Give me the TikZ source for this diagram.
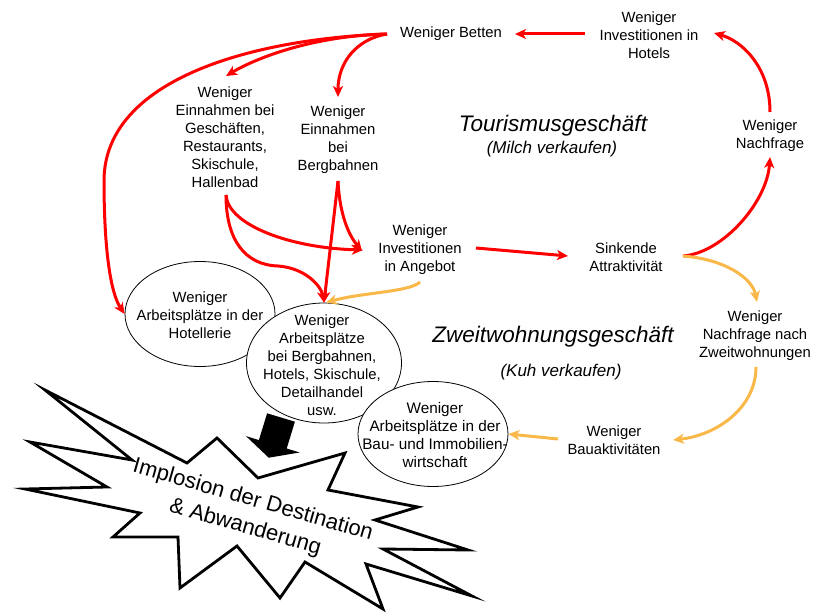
\documentclass[tikz,border=0pt]{standalone}
\usepackage{fontspec}
\setmainfont{Liberation Sans}
\usetikzlibrary{shapes.geometric,arrows.meta,calc}
\definecolor{redc}{RGB}{255,0,0}
\definecolor{orc}{RGB}{250,184,72}
\begin{document}
\begin{tikzpicture}[x=1pt,y=-1pt,
  txt/.style={font=\fontsize{14.8}{18}\selectfont, align=center, inner sep=0pt},
  ell/.style={draw, ellipse, fill=white, line width=0.8pt, inner sep=0pt},
  tipst/.style={-{Stealth[length=11pt,width=10pt,inset=3pt]}},
  rarr/.style={draw=redc, line width=3pt, tipst},
  oarr/.style={draw=orc, line width=3pt, tipst},
  title/.style={font=\fontsize{22.5}{26}\selectfont\itshape, inner sep=0pt},
  subtitle/.style={font=\fontsize{17}{20}\selectfont\itshape, inner sep=0pt}]
\useasboundingbox (0,0) rectangle (823,612);
\fill[white] (0,0) rectangle (823,612);

% text nodes
\node[txt] (betten) at (451,34) {Weniger Betten};
\node[txt] (hotels) at (649,35) {Weniger\\Investitionen in\\Hotels};
\node[txt] (nachfr) at (770,136) {Weniger\\Nachfrage};
\node[txt] (sinkend) at (626,257) {Sinkende\\Attraktivität};
\node[txt] (angebot) at (420,250) {Weniger\\Investitionen\\in Angebot};
\node[txt] (gesch) at (225,137) {Weniger\\Einnahmen bei\\Geschäften,\\Restaurants,\\Skischule,\\Hallenbad};
\node[txt] (bergb) at (338,140) {Weniger\\Einnahmen\\bei\\Bergbahnen};
\node[txt] (zwn) at (755,336) {Weniger\\Nachfrage nach\\Zweitwohnungen};
\node[txt] (bau) at (614,440) {Weniger\\Bauaktivitäten};
\node[title] (tour) at (553,126) {Tourismusgeschäft};
\node[subtitle] (milch) at (552,149) {(Milch verkaufen)};
\node[title] (zweit) at (553,337) {Zweitwohnungsgeschäft};
\node[subtitle] (kuh) at (561,372) {(Kuh verkaufen)};

% ellipses
\node[ell, minimum width=150pt, minimum height=105pt] (e1) at (200,314) {};
\node[txt] (e1t) at (200,315) {Weniger\\Arbeitsplätze in der\\Hotellerie};
\node[ell, minimum width=155pt, minimum height=120pt] (e2) at (324,363) {};
\node[txt] (e2t) at (322,365) {Weniger\\Arbeitsplätze\\bei Bergbahnen,\\Hotels, Skischule,\\Detailhandel\\usw.};
\node[ell, minimum width=150pt, minimum height=105pt] (e3) at (433,434) {};
\node[txt, font=\fontsize{15.3}{18}\selectfont] (e3t) at (435,435) {Weniger\\Arbeitsplätze in der\\Bau- und Immobilien-\\wirtschaft};

% coordinates for long curves
\coordinate (via1) at (104,180);
\coordinate (via2) at (278,266);

% red connectors
\draw[rarr] ($(hotels)+(-64,-1)$) -- ($(betten)+(64,0)$);
\draw[rarr] ($(nachfr)+(0,-24)$) .. controls +(0,-45) and +(28,8) .. ($(hotels)+(65,-2)$);
\draw[rarr] ($(sinkend)+(57,-1)$) .. controls +(40,-3) and +(-3,45) .. ($(nachfr)+(0,21)$);
\draw[rarr] ($(angebot)+(56,-2)$) -- ($(sinkend)+(-58,-1)$);
\draw[rarr] ($(betten)+(-64,0)$) .. controls +(-80,2) and +(25,-15) .. ($(gesch)+(1,-61)$);
\draw[rarr] ($(betten)+(-64,0)$) .. controls +(-30,5) and +(0,-35) .. ($(bergb)+(0,-43)$);
\draw[rarr] ($(betten)+(-64,0)$) .. controls +(-137,5) and +(1,-100) .. (via1)
            .. controls +(0,70) and +(-14,-21) .. (e1.west);
\draw[rarr] ($(gesch)+(1,58)$) .. controls +(2,30) and +(-73,-2) .. ($(angebot)+(-57,0)$);
\draw[rarr] ($(gesch)+(1,58)$) .. controls +(0,45) and +(-33,-1) .. (via2)
            .. controls +(27,2) and +(-3,-17) .. (e2.north);
\draw[rarr] ($(bergb)+(0,41)$) -- (e2.north);
\draw[rarr] ($(bergb)+(0,41)$) .. controls +(2,40) and +(-10,-12) .. ($(angebot)+(-58,1)$);

% orange connectors
\draw[oarr] ($(sinkend)+(57,-1)$) .. controls +(40,3) and +(-5,-25) .. ($(zwn)+(2,-34)$);
\draw[oarr] ($(zwn)+(1,31)$) .. controls +(0,40) and +(45,-5) .. ($(bau)+(59,0)$);
\draw[oarr] ($(bau)+(-56,-1)$) -- (e3.east);
\draw[oarr] ($(angebot)+(0,32)$) .. controls +(-10,10) and +(35,-10) .. ($(e2.north)+(2,0)$);

% explosion
\draw[line width=2.8pt, fill=white, line join=miter, miter limit=20]
  (45,390) -- (187,463) -- (217,438) -- (258,478) -- (345,453) -- (328,490)
  -- (418,507) -- (375,520) -- (468,550) -- (383,549) -- (472,596) -- (366,564)
  -- (383,609) -- (305,562) -- (280,598) -- (237,546) -- (180,588) -- (178,537)
  -- (113,537) -- (140,513) -- (25,489) -- (107,487) -- (30,442) -- (132,460) -- cycle;
\node[font=\fontsize{22}{28}\selectfont, rotate=-16, align=center, inner sep=0pt] (startext)
  at (249,514) {Implosion der Destination\\\& Abwanderung};

% block arrow
\fill[black] (267.1,413.3) -- (294.9,421.7) -- (286.7,448.5) -- (299.6,452.5)
  -- (268.7,457.7) -- (246,436.1) -- (258.9,440.1) -- cycle;
\end{tikzpicture}
\end{document}
